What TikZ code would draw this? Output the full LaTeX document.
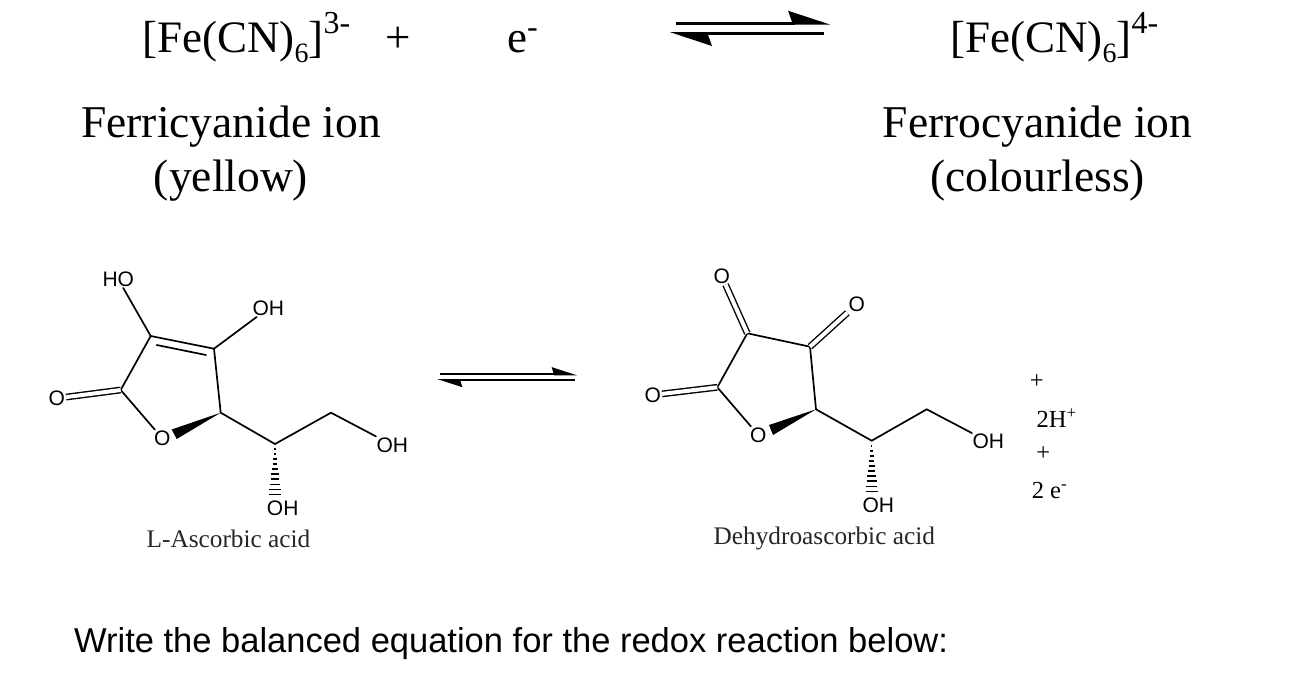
\documentclass[tikz,border=0pt]{standalone}
\usepackage{fontspec}
\setmainfont{Liberation Serif}
\setsansfont{Liberation Sans}
\usetikzlibrary{arrows.meta,positioning,calc}
\newcommand{\sizedfont}[1]{\fontsize{#1}{#1}\selectfont}
\newcommand{\lowsix}{\raisebox{-10pt}{\sizedfont{28}6}}
\newcommand{\highcharge}[1]{\raisebox{19pt}{\sizedfont{32}#1}}

\begin{document}
\begin{tikzpicture}[
    x=1pt, y=-1pt,
    bond/.style={line width=1.7pt, line cap=round},
    dblbond/.style={double, double distance=4pt, line width=1.4pt},
    atom/.style={inner sep=1pt, font=\sffamily\sizedfont{21}},
    compound/.style={inner sep=0pt, font=\sizedfont{25.3}, text=black!85},
    species/.style={inner sep=0pt, anchor=base west, font=\sizedfont{45}},
    ionname/.style={inner sep=0pt, align=center, font=\fontsize{45.5}{54}\selectfont},
    smallspecies/.style={inner sep=0pt, font=\sizedfont{24.5}},
    bigeq/.style={line width=3pt, -{Stealth[left,length=37pt,width=24pt,inset=4pt]}},
    smalleq/.style={line width=2pt, -{Stealth[left,length=22pt,width=14pt,inset=2pt]}}
  ]
  \useasboundingbox (0,0) rectangle (1306,696);

  % top equation
  \node [species] (ferri) at (142,52) {[Fe(CN)\lowsix]\highcharge{3-}};
  \node [species] (plus) at (385,52) {+};
  \node [species] (elec) at (507,52) {e\raisebox{14pt}{\sizedfont{32}-}};
  \node [species] (ferro) at (950,52) {[Fe(CN)\lowsix]\highcharge{4-}};
  \node [ionname] (ferriname) at (231,154) {Ferricyanide ion\\(yellow)};
  \node [ionname] (ferroname) at (1037.5,154) {Ferrocyanide ion\\(colourless)};

  \coordinate (eqa) at (676,23);
  \coordinate (eqb) at (830,23);
  \coordinate (eqc) at (824,33.7);
  \coordinate (eqd) at (670,33.7);
  \draw [bigeq] (eqa) -- (eqb);
  \draw [bigeq] (eqc) -- (eqd);

  % ascorbic acid
  \coordinate (aca) at (120.7,390);
  \coordinate (acb) at (150.7,336);
  \coordinate (acc) at (214,348.7);
  \coordinate (acd) at (220.7,412.7);
  \coordinate (ace) at (275,444);
  \coordinate (acf) at (331,412.7);
  \coordinate (acg) at (156.7,345);
  \coordinate (ach) at (206,355);
  \coordinate (aci) at (171.7,429.5);
  \coordinate (acj) at (176.7,439);
  \coordinate (ack) at (275,497);
  \node [atom] (acO) at (162.3,438.3) {O};
  \node [atom] (acOa) at (56.7,398.3) {O};
  \node [atom] (acHO) at (118.3,279.3) {HO};
  \node [atom] (acOHa) at (268.3,308.3) {OH};
  \node [atom] (acOHb) at (392.3,445) {OH};
  \node [atom] (acOHc) at (282.7,508.3) {OH};
  \node [compound] (acname) at (228.5,539) {L-Ascorbic acid};

  \draw [bond] (aca) -- (acb) -- (acc) -- (acd) -- (ace) -- (acf) -- (acOHb);
  \draw [bond] (aca) -- (acO);
  \draw [bond] (acb) -- (acHO);
  \draw [bond] (acc) -- (acOHa);
  \draw [bond] (acg) -- (ach);
  \draw [dblbond] (aca) -- (acOa);
  \fill (acd) -- (aci) -- (acj) -- cycle;
  \foreach \i in {1,...,10}
    \draw [line width=1.7pt] ($(ace)!\i/10.5!(ack)+(-\i*0.62,0)$) -- ($(ace)!\i/10.5!(ack)+(\i*0.62,0)$);

  \coordinate (eqe) at (440,374.3);
  \coordinate (eqf) at (577,374.3);
  \coordinate (eqg) at (575,380);
  \coordinate (eqh) at (437,380);
  \draw [smalleq] (eqe) -- (eqf);
  \draw [smalleq] (eqg) -- (eqh);

  % dehydroascorbic acid
  \coordinate (daa) at (717.3,387.3);
  \coordinate (dab) at (747.3,333.3);
  \coordinate (dac) at (810,346.7);
  \coordinate (dad) at (816,409.3);
  \coordinate (dae) at (871.7,440.7);
  \coordinate (daf) at (926.7,409.3);
  \coordinate (dai) at (769,425);
  \coordinate (daj) at (773,435);
  \coordinate (dak) at (871.7,494);
  \node [atom] (daO) at (758.3,435) {O};
  \node [atom] (daOa) at (652.7,395) {O};
  \node [atom] (daOb) at (721.7,276) {O};
  \node [atom] (daOc) at (856.7,304.3) {O};
  \node [atom] (daOHb) at (988.3,441.7) {OH};
  \node [atom] (daOHc) at (878.3,505) {OH};
  \node [compound] (daname) at (824.3,538) {Dehydroascorbic acid};

  \draw [bond] (daa) -- (dab) -- (dac) -- (dad) -- (dae) -- (daf) -- (daOHb);
  \draw [bond] (daa) -- (daO);
  \draw [dblbond] (daa) -- (daOa);
  \draw [dblbond] (dab) -- (daOb);
  \draw [dblbond] (dac) -- (daOc);
  \fill (dad) -- (dai) -- (daj) -- cycle;
  \foreach \i in {1,...,10}
    \draw [line width=1.7pt] ($(dae)!\i/10.5!(dak)+(-\i*0.62,0)$) -- ($(dae)!\i/10.5!(dak)+(\i*0.62,0)$);

  \node [smallspecies] (plusa) at (1036.7,381.7) {+};
  \node [smallspecies] (proton) at (1056.7,418) {2H\textsuperscript{+}};
  \node [smallspecies] (plusb) at (1043.3,453.3) {+};
  \node [smallspecies] (twoe) at (1049.5,490.5) {2 e\textsuperscript{-}};

  \node [inner sep=0pt, anchor=west, font=\sffamily\sizedfont{34.5}] (question) at (74,643.5)
    {Write the balanced equation for the redox reaction below:};
\end{tikzpicture}
\end{document}
